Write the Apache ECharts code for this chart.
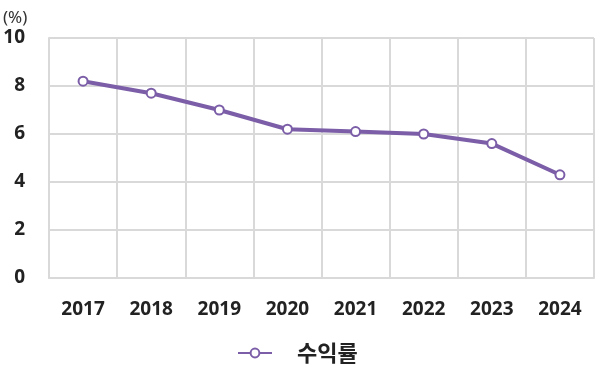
<!DOCTYPE html>
<html>
<head>
<meta charset="utf-8">
<script src="https://cdn.jsdelivr.net/npm/echarts@6/dist/echarts.min.js"></script>
<style>
    html, body { margin: 0; padding: 0; background: #fff; }
    #chart { width: 600px; height: 376px; }
</style>
</head>
<body>
<div id="chart"></div>
<script>
// data
var years = ['2017', '2018', '2019', '2020', '2021', '2022', '2023', '2024'];
var yieldRate = [8.2, 7.7, 7.0, 6.2, 6.1, 6.0, 5.6, 4.3];
var seriesName = '수익률';

var chart = echarts.init(document.getElementById('chart'), null, { renderer: 'canvas' });
var option = {
    animation: false,
    grid: { left: 49, right: 6, top: 38, bottom: 98 },
    legend: {
        data: [seriesName],
        top: 342,
        left: 237,
        padding: 0,
        itemWidth: 34,
        itemHeight: 11,
        textStyle: { fontSize: 22, fontWeight: 'bold', color: '#222', fontFamily: 'Noto Sans CJK KR', padding: [0, 0, 0, 20] }
    },
    xAxis: {
        type: 'category',
        data: years,
        boundaryGap: true,
        axisLine: { lineStyle: { color: '#d9d9d9', width: 2 } },
        axisTick: { show: false },
        splitLine: { show: true, lineStyle: { color: '#d9d9d9', width: 2 } },
        axisLabel: { margin: 22, fontSize: 19, fontWeight: 'bold', color: '#222', fontFamily: 'Noto Sans' }
    },
    yAxis: {
        type: 'value',
        min: 0,
        max: 10,
        interval: 2,
        name: '(%)',
        nameLocation: 'end',
        nameGap: 11,
        nameTextStyle: { fontSize: 17, color: '#333', align: 'left', padding: [0, 0, 0, -46], fontFamily: 'Noto Sans' },
        axisLine: { show: true, lineStyle: { color: '#d9d9d9', width: 2 } },
        axisTick: { show: false },
        splitLine: { lineStyle: { color: '#d9d9d9', width: 2 } },
        axisLabel: { margin: 24, fontSize: 19, fontWeight: 'bold', color: '#222', fontFamily: 'Noto Sans' }
    },
    series: [
        {
            name: seriesName,
            type: 'line',
            data: yieldRate,
            symbol: 'circle',
            symbolSize: 9,
            lineStyle: { color: '#7b5ea7', width: 4 },
            itemStyle: { color: '#fff', borderColor: '#7b5ea7', borderWidth: 2 }
        }
    ]
};
chart.setOption(option);
</script>
</body>
</html>
